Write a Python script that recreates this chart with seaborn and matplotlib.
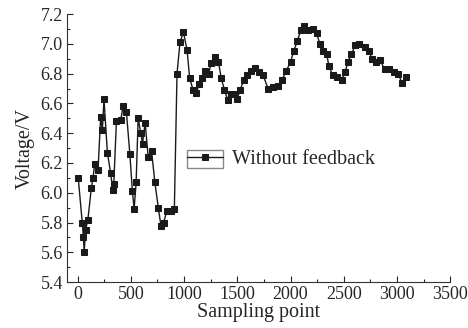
"""Voltage vs sampling point, without feedback."""

import pandas as pd
import matplotlib.pyplot as plt
import seaborn as sns
from matplotlib.patches import Rectangle
from matplotlib.ticker import MultipleLocator

# values
sample_idx = [
    6, 44, 55, 62, 75, 97, 129, 145, 160, 192, 217, 233, 248, 280, 311, 330,
    340, 365, 406, 427, 459, 491, 515, 531, 550, 569, 594, 610, 635, 663, 695,
    726, 758, 783, 808, 840, 877, 909, 934, 962, 994, 1028, 1053, 1085, 1113,
    1144, 1170, 1198, 1230, 1255, 1292, 1323, 1349, 1380, 1412, 1443, 1470,
    1497, 1528, 1560, 1592, 1632, 1670, 1704, 1742, 1789, 1836, 1883, 1921,
    1962, 2000, 2031, 2063, 2097, 2128, 2166, 2213, 2245, 2276, 2308, 2340,
    2361, 2396, 2434, 2481, 2512, 2540, 2572, 2607, 2645, 2695, 2733, 2770,
    2802, 2842, 2883, 2927, 2968, 3009, 3047, 3085,
]
voltage = [
    6.10, 5.80, 5.70, 5.60, 5.75, 5.82, 6.03, 6.10, 6.19, 6.15, 6.51, 6.42,
    6.63, 6.27, 6.13, 6.02, 6.06, 6.48, 6.49, 6.58, 6.54, 6.26, 6.01, 5.89,
    6.07, 6.50, 6.40, 6.33, 6.47, 6.24, 6.28, 6.07, 5.90, 5.78, 5.80, 5.88,
    5.88, 5.89, 6.80, 7.01, 7.08, 6.96, 6.77, 6.69, 6.67, 6.73, 6.77, 6.82,
    6.80, 6.87, 6.91, 6.88, 6.77, 6.69, 6.62, 6.66, 6.66, 6.63, 6.69, 6.76,
    6.79, 6.82, 6.84, 6.81, 6.79, 6.70, 6.71, 6.72, 6.76, 6.82, 6.88, 6.95,
    7.02, 7.09, 7.12, 7.09, 7.10, 7.07, 7.00, 6.95, 6.93, 6.85, 6.79, 6.78,
    6.76, 6.81, 6.88, 6.93, 6.99, 7.00, 6.98, 6.95, 6.90, 6.88, 6.89, 6.83,
    6.83, 6.81, 6.80, 6.74, 6.78,
]
series_label = "Without feedback"

df = pd.DataFrame({"sample": sample_idx, "voltage": voltage})

sns.set_style("ticks")
plt.rcParams["font.family"] = ["Liberation Serif", "DejaVu Serif"]
plt.rcParams["xtick.direction"] = "in"
plt.rcParams["ytick.direction"] = "in"

fig = plt.figure(figsize=(4.68, 3.28), dpi=100)
ax = fig.add_axes([0.143, 0.140, 0.819, 0.817])

sns.lineplot(data=df, x="sample", y="voltage", ax=ax, sort=False,
             color="#1a1a1a", linewidth=1.0, marker="s", markersize=4.8,
             markeredgecolor="#1a1a1a", label=series_label)

ax.set_xlim(-100, 3500)
ax.set_ylim(5.4, 7.2)
ax.xaxis.set_major_locator(MultipleLocator(500))
ax.xaxis.set_minor_locator(MultipleLocator(250))
ax.yaxis.set_major_locator(MultipleLocator(0.2))
ax.yaxis.set_minor_locator(MultipleLocator(0.1))
ax.yaxis.set_major_formatter(plt.FuncFormatter(lambda v, p: f"{v:.1f}"))
ax.tick_params(axis="both", which="major", length=4, labelsize=13, width=0.8, pad=3)
ax.tick_params(axis="both", which="minor", length=2, width=0.8)
sns.despine(ax=ax)
for s in ("left", "bottom"):
    ax.spines[s].set_color("#333333")
    ax.spines[s].set_linewidth(0.8)

ax.set_xlabel("Sampling point", fontsize=14.5, labelpad=0)
ax.set_ylabel("Voltage/V", fontsize=14.5, labelpad=4)

# legend: text outside, thin box drawn around the handle only
leg = ax.legend(loc="center left", bbox_to_anchor=(0.313, 0.458), fontsize=14.5,
                frameon=False, handlelength=1.8, handletextpad=0.45,
                borderpad=0, borderaxespad=0)
ax.add_patch(Rectangle((0.313, 0.425), 0.094, 0.068, transform=ax.transAxes,
                       fill=False, edgecolor="#888888", linewidth=1.0))

plt.savefig("out.png", dpi=100)
